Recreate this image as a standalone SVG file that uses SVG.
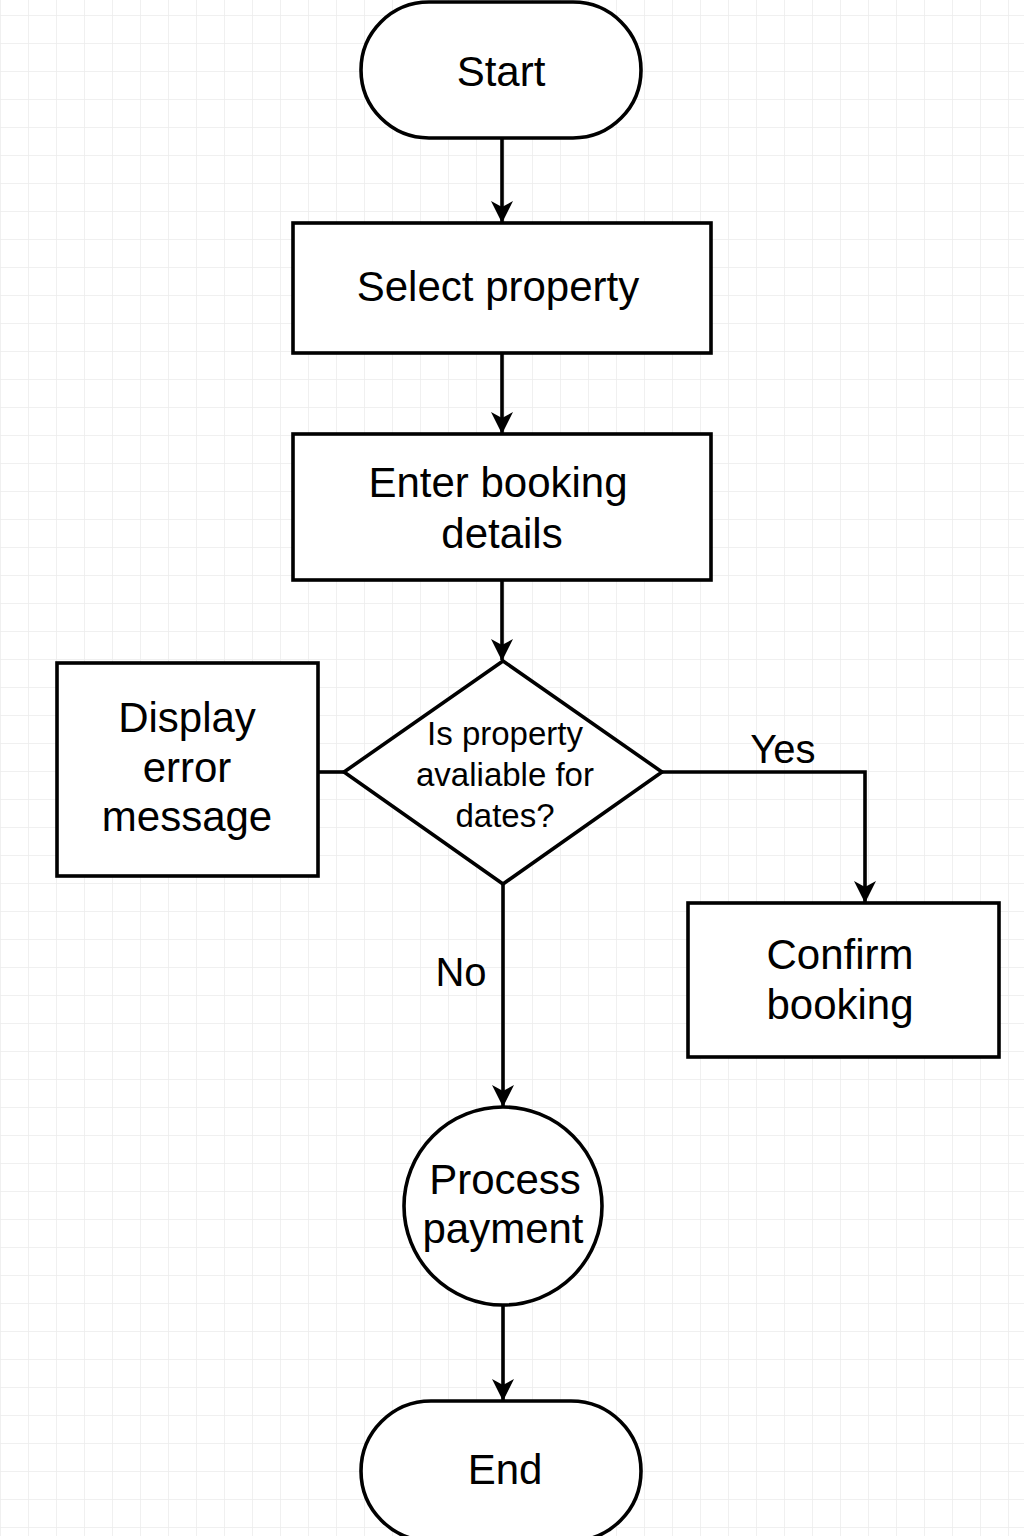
<svg xmlns="http://www.w3.org/2000/svg" width="1024" height="1536" viewBox="0 0 1024 1536">
<defs>
<pattern id="grid" x="0" y="15" width="28" height="28" patternUnits="userSpaceOnUse">
<path d="M0,0 H28 M0,0 V28" fill="none" stroke="#ececec" stroke-width="1.5"/>
</pattern>
<marker id="arr" viewBox="0 0 22 22" refX="21" refY="11" markerWidth="22" markerHeight="22" markerUnits="userSpaceOnUse" orient="auto">
<path d="M0,0 L22,11 L0,22 L6,11 z" fill="#000"/>
</marker>
</defs>
<style>
.shape{fill:#fff;stroke:#000;stroke-width:3.6;}
.line{fill:none;stroke:#000;stroke-width:3.6;}
.t{font-family:"Liberation Sans",Arial,sans-serif;font-size:42px;fill:#000;text-anchor:middle;}
.s{font-size:33px;}
.l{font-size:40px;}
</style>
<rect width="1024" height="1536" fill="#fff"/>
<rect width="1024" height="1536" fill="url(#grid)"/>
<g id="connectors">
<line class="line" x1="502" y1="138" x2="502" y2="222" marker-end="url(#arr)"/>
<line class="line" x1="502" y1="353" x2="502" y2="433" marker-end="url(#arr)"/>
<line class="line" x1="502" y1="580" x2="502" y2="660" marker-end="url(#arr)"/>
<line class="line" x1="318" y1="772" x2="344" y2="772"/>
<polyline class="line" points="662,772 865,772 865,902" marker-end="url(#arr)"/>
<line class="line" x1="503" y1="884" x2="503" y2="1106" marker-end="url(#arr)"/>
<line class="line" x1="503" y1="1305" x2="503" y2="1400" marker-end="url(#arr)"/>
<text class="t l" x="783" y="763">Yes</text>
<text class="t l" x="461" y="986">No</text>
</g>
<g id="start">
<rect class="shape" x="361" y="2" width="280" height="136" rx="68" ry="68"/>
<text class="t" x="501" y="86">Start</text>
</g>
<g id="select">
<rect class="shape" x="293" y="223" width="418" height="130"/>
<text class="t" x="498" y="301">Select property</text>
</g>
<g id="enter">
<rect class="shape" x="293" y="434" width="418" height="146"/>
<text class="t" x="498" y="497">Enter booking</text>
<text class="t" x="502" y="548">details</text>
</g>
<g id="decision">
<polygon class="shape" points="503,661 662,772 503,884 344,772"/>
<text class="t s" x="505" y="745">Is property</text>
<text class="t s" x="505" y="786">avaliable for</text>
<text class="t s" x="505" y="827">dates?</text>
</g>
<g id="error">
<rect class="shape" x="57" y="663" width="261" height="213"/>
<text class="t" x="187" y="732">Display</text>
<text class="t" x="187" y="782">error</text>
<text class="t" x="187" y="831">message</text>
</g>
<g id="confirm">
<rect class="shape" x="688" y="903" width="311" height="154"/>
<text class="t" x="840" y="969">Confirm</text>
<text class="t" x="840" y="1019">booking</text>
</g>
<g id="payment">
<circle class="shape" cx="503" cy="1206" r="99"/>
<text class="t" x="505" y="1194">Process</text>
<text class="t" x="503" y="1243">payment</text>
</g>
<g id="end">
<rect class="shape" x="361" y="1401" width="280" height="140" rx="70" ry="70"/>
<text class="t" x="505" y="1484">End</text>
</g>
</svg>
